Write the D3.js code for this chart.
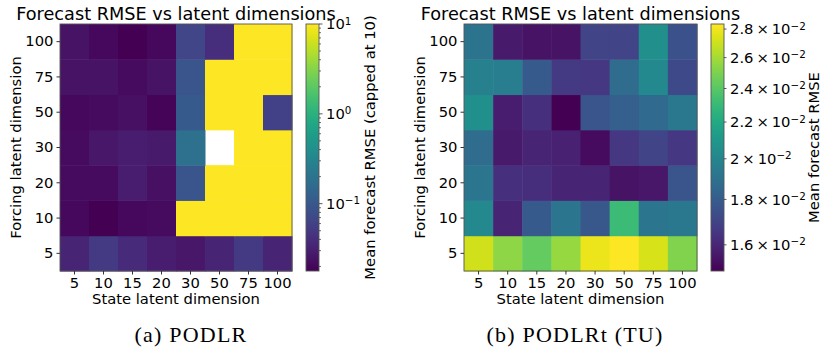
<!DOCTYPE html>
<html>
<head>
<meta charset="UTF-8" />
<title>Forecast RMSE vs latent dimensions</title>
<script src="https://d3js.org/d3.v7.min.js"></script>
<style>
  body { margin: 0; background: #fff; }
  text { font-family: "DejaVu Sans", sans-serif; fill: #000; }
</style>
</head>
<body>
<svg id="chart" width="820" height="349"></svg>
<script>
// axis categories
const stateDims = ["5", "10", "15", "20", "30", "50", "75", "100"];
const forcingDims = ["5", "10", "20", "30", "50", "75", "100"];

// (a) PODLR, rows = forcing dim (5 .. 100), cols = state dim; capped at 10, null = missing
const rmsePODLR = [
  [0.0335, 0.0522, 0.0380, 0.0295, 0.0260, 0.0335, 0.0522, 0.0335],
  [0.0202, 0.0178, 0.0202, 0.0215, 10, 10, 10, 10],
  [0.0215, 0.0215, 0.0295, 0.0229, 0.0923, 10, 10, 10],
  [0.0215, 0.0260, 0.0295, 0.0277, 0.185, null, 10, 10],
  [0.0202, 0.0215, 0.0229, 0.0190, 0.1047, 10, 10, 0.0592],
  [0.0244, 0.0244, 0.0215, 0.0244, 0.0923, 10, 10, 10],
  [0.0244, 0.0202, 0.0180, 0.0202, 0.0672, 0.0405, 10, 10]
];

// (b) PODLRt (TU)
const rmsePODLRt = [
  [0.02712, 0.02545, 0.02433, 0.02561, 0.02783, 0.02837, 0.02730, 0.02512],
  [0.02020, 0.01594, 0.01789, 0.01919, 0.01777, 0.02311, 0.01919, 0.01932],
  [0.01919, 0.01635, 0.01625, 0.01594, 0.01594, 0.01544, 0.01553, 0.01766],
  [0.01871, 0.01563, 0.01594, 0.01584, 0.01524, 0.01656, 0.01699, 0.01656],
  [0.02059, 0.01574, 0.01635, 0.01495, 0.01766, 0.01812, 0.01859, 0.01932],
  [0.01969, 0.01957, 0.01789, 0.01667, 0.01656, 0.01871, 0.02020, 0.01721],
  [0.01907, 0.01563, 0.01544, 0.01544, 0.01699, 0.01699, 0.02059, 0.01754]
];

// colorbar ticks
const majorTicksA = [0.1, 1, 10];
const minorTicksA = [0.02, 0.03, 0.04, 0.05, 0.06, 0.07, 0.08, 0.09,
                     0.2, 0.3, 0.4, 0.5, 0.6, 0.7, 0.8, 0.9,
                     2, 3, 4, 5, 6, 7, 8, 9];
const ticksB = [0.016, 0.018, 0.020, 0.022, 0.024, 0.026, 0.028];

const svg = d3.select("#chart");
const fs = 14.75;

function drawPanel(cfg) {
  const g = svg.append("g");
  const flat = cfg.data.flat().filter(v => v != null);
  const ext = d3.extent(flat);

  const x = d3.scaleBand().domain(stateDims).range([cfg.x0, cfg.x1]);
  const y = d3.scaleBand().domain(forcingDims.slice().reverse()).range([cfg.y0, cfg.y1]);
  const color = d3.scaleSequentialLog(d3.interpolateViridis).domain(ext);

  const cells = [];
  cfg.data.forEach((row, i) => row.forEach((v, j) => cells.push({f: forcingDims[i], s: stateDims[j], v: v})));

  g.selectAll("rect.cell")
    .data(cells.filter(d => d.v != null))
    .join("rect")
    .attr("class", "cell")
    .attr("x", d => x(d.s))
    .attr("y", d => y(d.f))
    .attr("width", x.bandwidth() + 0.5)
    .attr("height", y.bandwidth() + 0.5)
    .attr("fill", d => color(d.v));

  g.append("rect")
    .attr("x", cfg.x0).attr("y", cfg.y0)
    .attr("width", cfg.x1 - cfg.x0).attr("height", cfg.y1 - cfg.y0)
    .attr("fill", "none").attr("stroke", "#555").attr("stroke-width", 0.9);

  // axes
  const xAx = g.append("g").attr("transform", `translate(0,${cfg.y1})`)
    .call(d3.axisBottom(x).tickSize(3.5).tickPadding(3));
  const yAx = g.append("g").attr("transform", `translate(${cfg.x0},0)`)
    .call(d3.axisLeft(y).tickSize(3.5).tickPadding(3));
  [xAx, yAx].forEach(a => {
    a.select(".domain").remove();
    a.selectAll("line").attr("stroke", "#333");
    a.selectAll("text").style("font-size", fs + "px").attr("fill", "#000")
      .style("font-family", "DejaVu Sans");
  });
  xAx.selectAll("text").attr("dy", "0.71em");

  // titles and labels
  g.append("text").attr("x", (cfg.x0 + cfg.x1) / 2).attr("y", 20)
    .attr("text-anchor", "middle").style("font-size", "17.7px")
    .text("Forecast RMSE vs latent dimensions");
  g.append("text").attr("x", (cfg.x0 + cfg.x1) / 2).attr("y", 303.5)
    .attr("text-anchor", "middle").style("font-size", fs + "px")
    .text("State latent dimension");
  g.append("text")
    .attr("transform", `translate(${cfg.ylabX},${(cfg.y0 + cfg.y1) / 2}) rotate(-90)`)
    .attr("text-anchor", "middle").style("font-size", fs + "px")
    .text("Forcing latent dimension");

  // colorbar
  const cb = d3.scaleLog().domain(ext).range([cfg.y1, cfg.y0]);
  const gid = "grad" + cfg.id;
  const grad = svg.append("defs").append("linearGradient").attr("id", gid)
    .attr("x1", 0).attr("y1", 1).attr("x2", 0).attr("y2", 0);
  d3.range(0, 1.0001, 0.05).forEach(t => {
    grad.append("stop").attr("offset", t).attr("stop-color", d3.interpolateViridis(t));
  });
  g.append("rect").attr("x", cfg.cbx).attr("y", cfg.y0)
    .attr("width", 13).attr("height", cfg.y1 - cfg.y0)
    .attr("fill", `url(#${gid})`).attr("stroke", "#555").attr("stroke-width", 0.9);

  const ca = g.append("g").attr("transform", `translate(${cfg.cbx + 13},0)`);
  ca.selectAll("line.minor").data(cfg.minor).join("line")
    .attr("x1", 0).attr("x2", 2).attr("y1", d => cb(d)).attr("y2", d => cb(d))
    .attr("stroke", "#333").attr("stroke-width", 0.7);
  ca.selectAll("line.major").data(cfg.major).join("line")
    .attr("x1", 0).attr("x2", cfg.majorLen).attr("y1", d => cb(d)).attr("y2", d => cb(d))
    .attr("stroke", "#333").attr("stroke-width", 0.8);
  const lab = ca.selectAll("text.tl").data(cfg.major).join("text")
    .attr("x", cfg.majorLen + 3.5).attr("y", d => cb(d)).attr("dy", "0.35em")
    .style("font-size", fs + "px");
  lab.each(function(d) {
    const t = d3.select(this);
    const p = cfg.fmt(d);
    if (p[0]) t.append("tspan").text(p[0]);
    t.append("tspan").text("10");
    t.append("tspan").attr("dy", "-0.45em").style("font-size", (fs * 0.7) + "px").text(p[1]);
  });

  g.append("text")
    .attr("transform", `translate(${cfg.cblabX},${(cfg.y0 + cfg.y1) / 2}) rotate(-90)`)
    .attr("text-anchor", "middle").style("font-size", fs + "px")
    .text(cfg.cblabel);

  // caption
  svg.append("text").attr("x", cfg.capX).attr("y", 342)
    .attr("text-anchor", "middle")
    .style("font-family", "Liberation Serif, serif").style("font-size", "22px")
    .style("letter-spacing", "1.2px")
    .text(cfg.caption);
}

drawPanel({
  id: "a", data: rmsePODLR, x0: 60, x1: 292, y0: 24, y1: 271,
  ylabX: 21, cbx: 306, cblabX: 375,
  major: majorTicksA, minor: minorTicksA, majorLen: 3.5,
  fmt: d => ["", d3.format("d")(Math.log10(d)).replace("-", "\u2212")],
  cblabel: "Mean forecast RMSE (capped at 10)",
  caption: "(a) PODLR", capX: 191
});

drawPanel({
  id: "b", data: rmsePODLRt, x0: 464, x1: 697, y0: 24, y1: 271,
  ylabX: 425, cbx: 711, cblabX: 818.5,
  major: ticksB, minor: [], majorLen: 2.5,
  fmt: d => [d3.format("~g")(+(d * 100).toFixed(1)) + "\u2009\u00d7\u2009", "\u22122"],
  cblabel: "Mean forecast RMSE",
  caption: "(b) PODLRt (TU)", capX: 575
});
</script>
</body>
</html>
